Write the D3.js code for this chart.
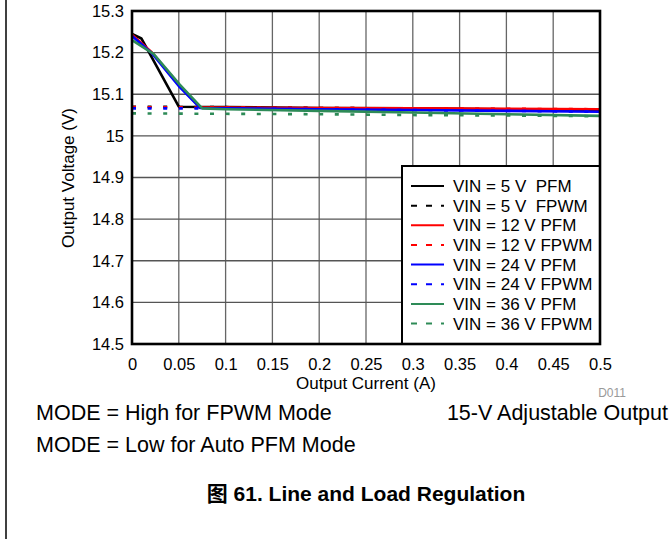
<!DOCTYPE html>
<html><head><meta charset="utf-8">
<script src="https://cdn.jsdelivr.net/npm/d3@7"></script>
<style>
html,body{margin:0;padding:0;background:#fff;}
svg{display:block;font-family:"Liberation Sans",Arial,sans-serif;}
</style></head>
<body>
<svg id="c" width="669" height="539"></svg>
<script>
// ---- data ----
const xTicks = [0,0.05,0.1,0.15,0.2,0.25,0.3,0.35,0.4,0.45,0.5];
const xTickLabels = ["0","0.05","0.1","0.15","0.2","0.25","0.3","0.35","0.4","0.45","0.5"];
const yTicks = [14.5,14.6,14.7,14.8,14.9,15,15.1,15.2,15.3];
const yTickLabels = ["14.5","14.6","14.7","14.8","14.9","15","15.1","15.2","15.3"];

const pfm5I  = [0, 0.01, 0.05, 0.1, 0.2, 0.3, 0.4, 0.5];
const pfm5V  = [15.245, 15.234, 15.070, 15.069, 15.067, 15.066, 15.064, 15.062];
const pfmI   = [0, 0.021, 0.051, 0.073, 0.1, 0.2, 0.3, 0.4, 0.5];
const pfm12V = [15.243, 15.201, 15.120, 15.068, 15.068, 15.067, 15.066, 15.065, 15.064];
const pfm24V = [15.240, 15.199, 15.117, 15.067, 15.066, 15.064, 15.062, 15.060, 15.058];
const pfm36I = [0, 0.023, 0.051, 0.075, 0.1, 0.2, 0.3, 0.4, 0.5];
const pfm36V = [15.230, 15.197, 15.123, 15.066, 15.064, 15.060, 15.056, 15.052, 15.048];
const fpwmI  = [0, 0.1, 0.2, 0.3, 0.4, 0.5];
const fpwm5V  = [15.070, 15.069, 15.067, 15.066, 15.064, 15.062];
const fpwm12V = [15.069, 15.068, 15.067, 15.066, 15.065, 15.064];
const fpwm24V = [15.066, 15.066, 15.064, 15.062, 15.060, 15.058];
const fpwm36V = [15.054, 15.053, 15.052, 15.050, 15.049, 15.047];

const seriesNames = ["VIN = 5 V  PFM","VIN = 5 V  FPWM","VIN = 12 V PFM","VIN = 12 V FPWM",
                     "VIN = 24 V PFM","VIN = 24 V FPWM","VIN = 36 V PFM","VIN = 36 V FPWM"];
const seriesColors = ["#000000","#000000","#ff0000","#ff0000","#0000ff","#0000ff","#2e8b57","#2e8b57"];
const seriesDashed = [false,true,false,true,false,true,false,true];
const seriesX = [pfm5I, fpwmI, pfmI, fpwmI, pfmI, fpwmI, pfm36I, fpwmI];
const seriesY = [pfm5V, fpwm5V, pfm12V, fpwm12V, pfm24V, fpwm24V, pfm36V, fpwm36V];

// ---- layout ----
const svg = d3.select("#c");
const L = 132, R = 600, T = 11, B = 344;
const x = d3.scaleLinear().domain([0,0.5]).range([L,R]);
const y = d3.scaleLinear().domain([14.5,15.3]).range([B,T]);

// page frame line
svg.append("line").attr("x1",6).attr("x2",6).attr("y1",0).attr("y2",539)
  .attr("stroke","#000").attr("stroke-width",1.5);

// grid
const g = svg.append("g");
g.selectAll(".gx").data(xTicks.slice(1,-1)).enter().append("line")
  .attr("x1",d=>x(d)).attr("x2",d=>x(d)).attr("y1",T).attr("y2",B)
  .attr("stroke","#666").attr("stroke-width",1.3);
g.selectAll(".gy").data(yTicks.slice(1,-1)).enter().append("line")
  .attr("x1",L).attr("x2",R).attr("y1",d=>y(d)).attr("y2",d=>y(d))
  .attr("stroke","#555").attr("stroke-width",1.3);

// series
const line = d3.line().x(d=>x(d[0])).y(d=>y(d[1]));
seriesNames.forEach((n,i)=>{
  const pts = seriesX[i].map((v,j)=>[v, seriesY[i][j]]);
  svg.append("path").attr("d",line(pts)).attr("fill","none")
    .attr("stroke",seriesColors[i]).attr("stroke-width",2.6)
    .attr("stroke-dasharray",seriesDashed[i] ? "4,11.6" : null)
    .attr("stroke-linejoin","round");
});

// axes
const fs = 16.5;
const ax = svg.append("g").attr("transform",`translate(0,${B})`)
  .call(d3.axisBottom(x).tickValues(xTicks).tickFormat((d,i)=>xTickLabels[i]).tickSize(0).tickPadding(14));
const ay = svg.append("g").attr("transform",`translate(${L},0)`)
  .call(d3.axisLeft(y).tickValues(yTicks).tickFormat((d,i)=>yTickLabels[i]).tickSize(0).tickPadding(8));
[ax,ay].forEach(a=>{
  a.select(".domain").remove();
  a.selectAll("text").attr("font-size",fs).attr("fill","#000").attr("font-family",'"Liberation Sans",Arial,sans-serif');
});

// legend
const lgX = 402, lgY = 166;
svg.append("rect").attr("x",lgX).attr("y",lgY).attr("width",R-lgX).attr("height",B-lgY)
  .attr("fill","#fff").attr("stroke","#000").attr("stroke-width",2);
seriesNames.forEach((n,i)=>{
  const yy = 186 + i*19.65;
  svg.append("line").attr("x1",411).attr("x2",444).attr("y1",yy).attr("y2",yy)
    .attr("stroke",seriesColors[i]).attr("stroke-width",2)
    .attr("stroke-dasharray",seriesDashed[i] ? "6,9" : null);
  svg.append("text").attr("x",453).attr("y",yy).attr("dy","0.36em")
    .attr("font-size",17).attr("fill","#000").attr("xml:space","preserve")
    .style("white-space","pre").text(n);
});

// plot frame
svg.append("rect").attr("x",L).attr("y",T).attr("width",R-L).attr("height",B-T)
  .attr("fill","none").attr("stroke","#000").attr("stroke-width",2.6);

// titles
svg.append("text").attr("x",366).attr("y",389).attr("text-anchor","middle")
  .attr("font-size",17).text("Output Current (A)");
svg.append("text").attr("transform",`translate(74,178) rotate(-90)`).attr("text-anchor","middle")
  .attr("font-size",17).text("Output Voltage (V)");
svg.append("text").attr("x",626).attr("y",397).attr("text-anchor","end")
  .attr("font-size",12).attr("fill","#999").text("D011");
svg.append("text").attr("x",36).attr("y",420).attr("font-size",21.5).text("MODE = High for FPWM Mode");
svg.append("text").attr("x",668).attr("y",420).attr("text-anchor","end").attr("font-size",21.5).text("15-V Adjustable Output");
svg.append("text").attr("x",36).attr("y",452).attr("font-size",21.5).text("MODE = Low for Auto PFM Mode");
const t = svg.append("text").attr("x",366).attr("y",501).attr("text-anchor","middle")
  .attr("font-size",21).attr("font-weight","bold");
t.append("tspan").attr("font-family",'"Noto Sans CJK SC",sans-serif').text("图");
t.append("tspan").text(" 61. Line and Load Regulation");
</script>
</body></html>
